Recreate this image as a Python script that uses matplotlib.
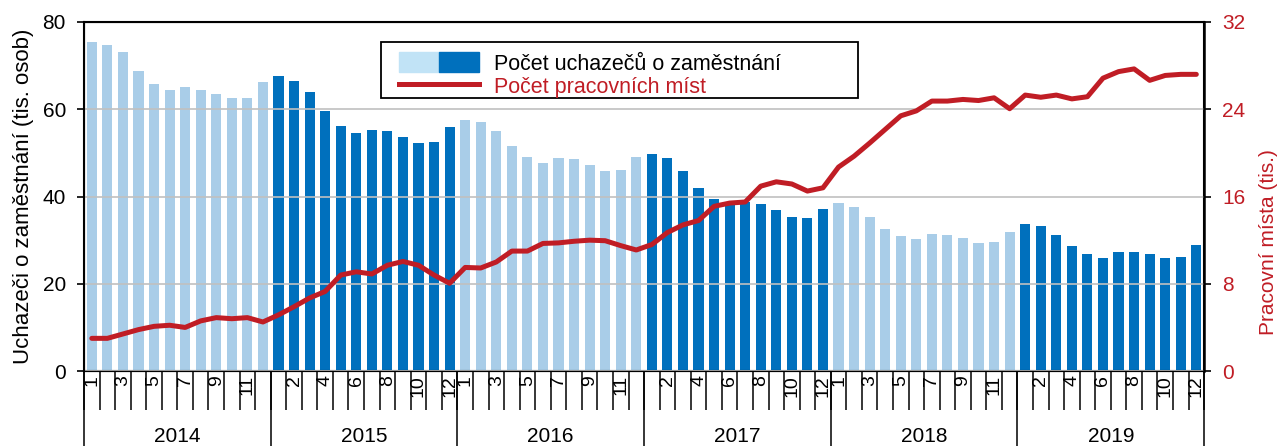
import numpy as np
import matplotlib.pyplot as plt
from matplotlib.patches import Rectangle
from matplotlib.lines import Line2D
from matplotlib.legend_handler import HandlerTuple

plt.rcParams['font.family'] = ['Liberation Sans', 'DejaVu Sans']

years = [2014, 2015, 2016, 2017, 2018, 2019]

# uchazeci o zamestnani (tis. osob), monthly 2014-2019
uchazeci = [75.4, 74.8, 73.2, 68.8, 65.8, 64.3, 65.1, 64.4, 63.5, 62.5, 62.5, 66.2,
            67.7, 66.5, 64.0, 59.6, 56.2, 54.5, 55.2, 55.0, 53.6, 52.3, 52.5, 55.9,
            57.5, 57.1, 55.0, 51.6, 49.1, 47.7, 48.8, 48.6, 47.2, 45.8, 46.0, 49.1,
            49.8, 48.8, 45.8, 41.9, 39.4, 38.8, 38.8, 38.2, 36.8, 35.2, 35.0, 37.1,
            38.5, 37.5, 35.2, 32.5, 30.9, 30.2, 31.3, 31.1, 30.4, 29.3, 29.5, 31.8,
            33.6, 33.2, 31.1, 28.6, 26.9, 26.0, 27.4, 27.4, 26.9, 26.0, 26.2, 29.0]

# pracovni mista (tis.)
mista = [3.0, 3.0, 3.4, 3.8, 4.1, 4.2, 4.0, 4.6, 4.9, 4.8, 4.9, 4.5,
         5.15, 5.9, 6.7, 7.3, 8.8, 9.1, 8.9, 9.7, 10.05, 9.7, 8.8, 8.05,
         9.5, 9.45, 10.0, 11.0, 11.0, 11.7, 11.75, 11.9, 12.0, 11.95, 11.5, 11.1,
         11.6, 12.7, 13.4, 13.8, 15.1, 15.4, 15.5, 16.95, 17.35, 17.15, 16.5, 16.8,
         18.7, 19.7, 20.9, 22.15, 23.4, 23.85, 24.75, 24.75, 24.9, 24.8, 25.05, 24.05,
         25.3, 25.1, 25.3, 24.95, 25.15, 26.85, 27.45, 27.7, 26.65, 27.1, 27.2, 27.2]

light = '#a9cde8'
dark = '#0070bd'
red = '#c01d25'

n = len(uchazeci)
x = np.arange(n)
colors = [light if (i // 12) % 2 == 0 else dark for i in range(n)]

fig = plt.figure(figsize=(12.83, 4.46), dpi=100)
ax = fig.add_axes([0.0655, 0.168, 0.873, 0.7827])

ax.bar(x, uchazeci, width=0.65, color=colors, zorder=2)
ax.set_ylim(0, 80)
ax.set_xlim(-0.5, n - 0.5)
ax.set_yticks([0, 20, 40, 60, 80])
ax.yaxis.grid(True, color='#c0c0c0', linewidth=1.2, zorder=2.5)
ax.set_axisbelow(False)
ax.set_ylabel('Uchazeči o zaměstnání (tis. osob)', fontsize=16, labelpad=6)
ax.tick_params(axis='y', labelsize=15, length=5, width=1.2, pad=8, direction='out')

# month ticks: boundaries as major ticks, labels on minor ticks
ax.set_xticks(np.arange(-0.5, n, 1.0))
ax.set_xticklabels([])
ax.tick_params(axis='x', which='major', length=28, width=1.1, direction='out')
lab_pos = []
lab_txt = []
for k, yr in enumerate(years):
    start = 1 if k % 2 == 0 else 2
    for m in range(start, 13, 2):
        lab_pos.append(k * 12 + m - 1)
        lab_txt.append(str(m))
ax.set_xticks(lab_pos, minor=True)
ax.set_xticklabels(lab_txt, minor=True, rotation=90, fontsize=14)
ax.tick_params(axis='x', which='minor', length=0, pad=3)

# year separators and labels
tr = ax.get_xaxis_transform()
for k in range(len(years) + 1):
    ax.plot([k * 12 - 0.5, k * 12 - 0.5], [0, -0.25], color='black', lw=1.1,
            transform=tr, clip_on=False)
for k, yr in enumerate(years):
    ax.text(k * 12 + 5.5, -0.186, str(yr), transform=tr, ha='center', va='center',
            fontsize=15)

for s in ['left', 'right', 'top', 'bottom']:
    ax.spines[s].set_linewidth(1.5)

ax2 = ax.twinx()
ax2.plot(x, mista, color=red, lw=3.6, solid_capstyle='round', zorder=3)
ax2.set_ylim(0, 32)
ax2.set_yticks([0, 8, 16, 24, 32])
ax2.tick_params(axis='y', labelsize=15, length=5, width=1.2, pad=8,
                colors='black', labelcolor=red)
ax2.set_ylabel('Pracovní místa (tis.)', fontsize=15, color=red)
ax2.yaxis.set_label_coords(1.049, 0.37)
ax2.spines['right'].set_linewidth(1.8)

# legend box drawn separately (wider than its contents in the original)
ax2.add_patch(Rectangle((0.2652, 0.781), 0.426, 0.162, transform=ax2.transAxes,
                        facecolor='white', edgecolor='black', lw=1.3, zorder=4))
h_bar = (Rectangle((0, 0), 1, 1, color='#c1e3f6'), Rectangle((0, 0), 1, 1, color=dark))
h_line = Line2D([], [], color=red, lw=3.6)
leg = ax2.legend([h_bar, h_line], ['Počet uchazečů o zaměstnání', 'Počet pracovních míst'],
                 handler_map={tuple: HandlerTuple(ndivide=None, pad=0)},
                 loc='upper left', bbox_to_anchor=(0.2812, 0.913), fontsize=15.5,
                 handlelength=3.7, handleheight=1.05, labelspacing=0.05,
                 handletextpad=0.72, borderpad=0, borderaxespad=0, frameon=False)
leg.set_zorder(5)
leg.get_texts()[1].set_color(red)

fig.savefig('out.png', dpi=100)
